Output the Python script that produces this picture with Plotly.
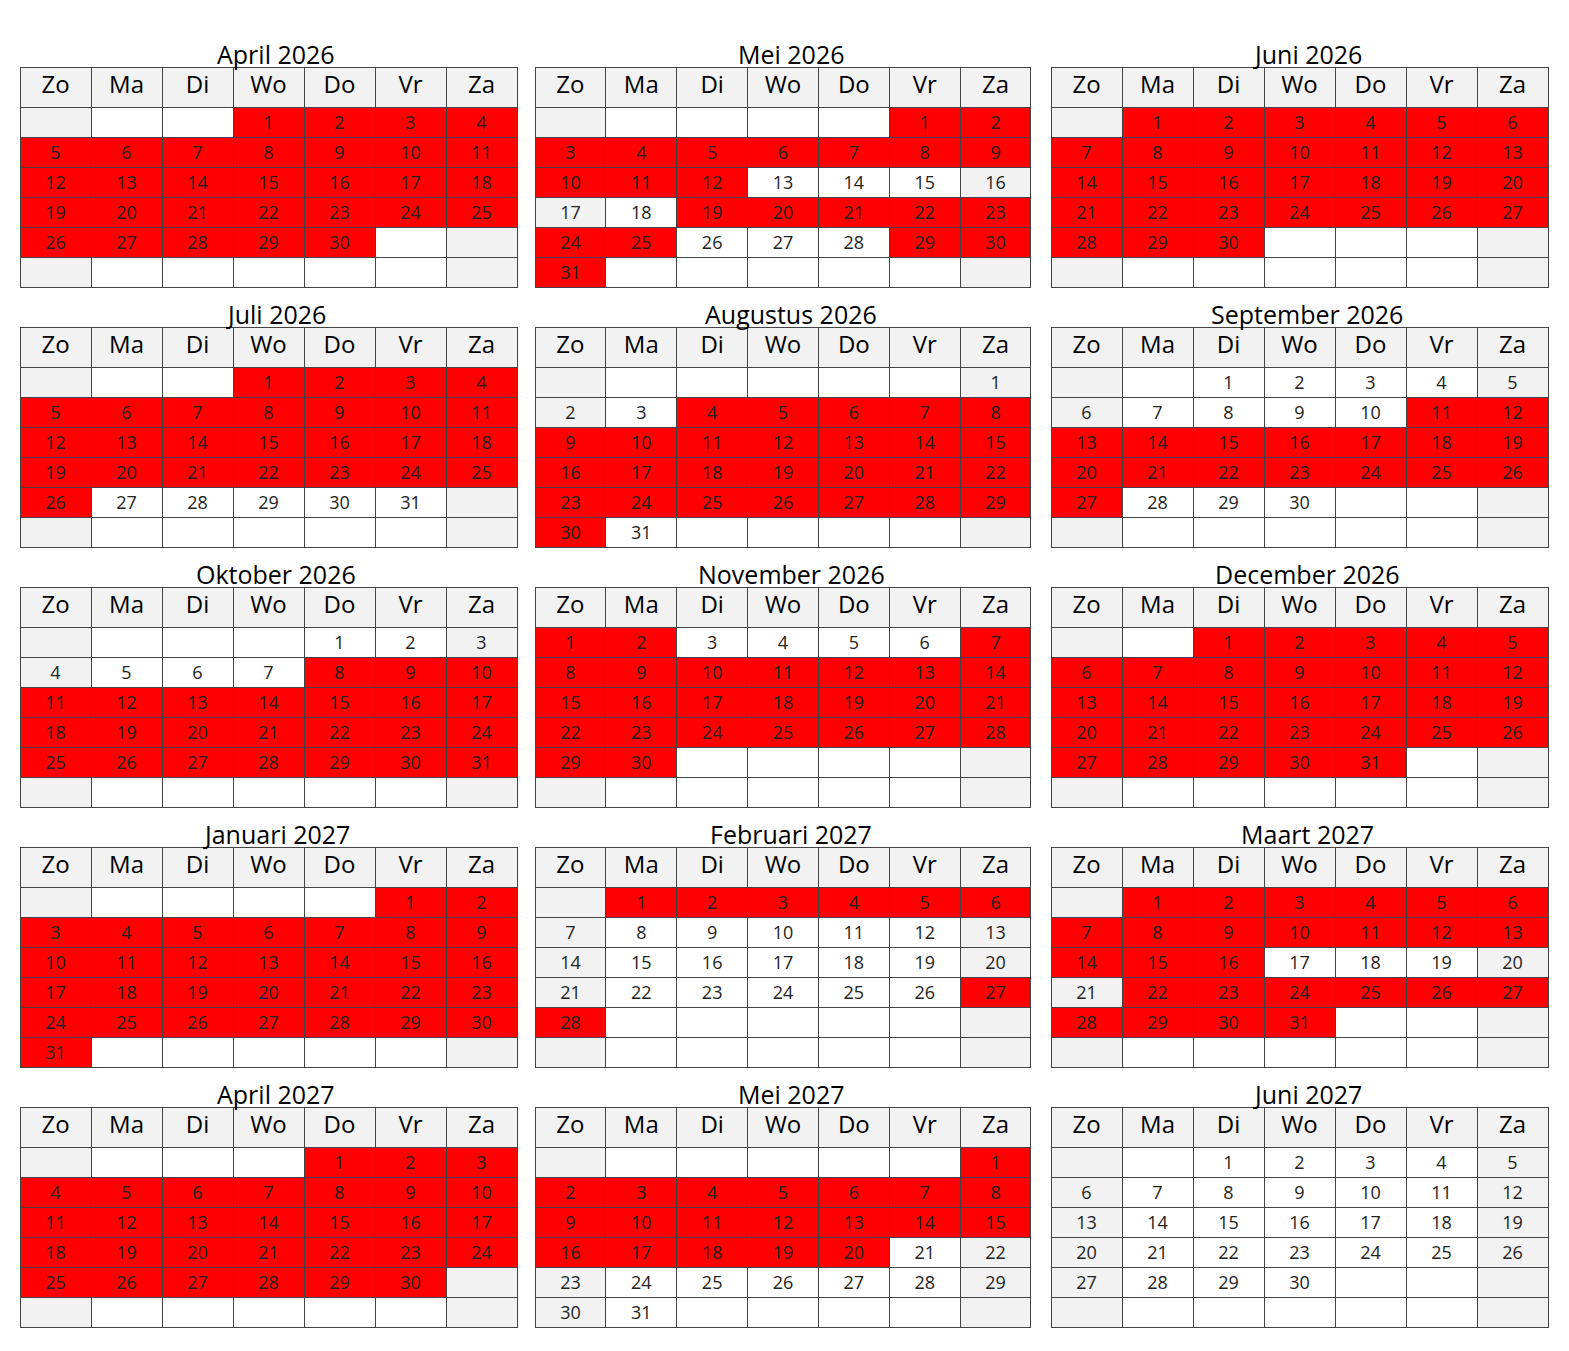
import calendar
import plotly.graph_objects as go

# months shown, (year, month, title)
months = [
    (2026, 4, "April 2026"), (2026, 5, "Mei 2026"), (2026, 6, "Juni 2026"),
    (2026, 7, "Juli 2026"), (2026, 8, "Augustus 2026"), (2026, 9, "September 2026"),
    (2026, 10, "Oktober 2026"), (2026, 11, "November 2026"), (2026, 12, "December 2026"),
    (2027, 1, "Januari 2027"), (2027, 2, "Februari 2027"), (2027, 3, "Maart 2027"),
    (2027, 4, "April 2027"), (2027, 5, "Mei 2027"), (2027, 6, "Juni 2027"),
]
day_names = ["Zo", "Ma", "Di", "Wo", "Do", "Vr", "Za"]

# booked (red) day ranges per month, inclusive
booked = {
    (2026, 4): [(1, 30)],
    (2026, 5): [(1, 12), (19, 25), (29, 31)],
    (2026, 6): [(1, 30)],
    (2026, 7): [(1, 26)],
    (2026, 8): [(4, 30)],
    (2026, 9): [(11, 27)],
    (2026, 10): [(8, 31)],
    (2026, 11): [(1, 2), (7, 30)],
    (2026, 12): [(1, 31)],
    (2027, 1): [(1, 31)],
    (2027, 2): [(1, 6), (27, 28)],
    (2027, 3): [(1, 16), (22, 31)],
    (2027, 4): [(1, 30)],
    (2027, 5): [(1, 20)],
    (2027, 6): [],
}

W, H = 1569, 1351
col_x = [(20, 516), (535, 1031), (1051, 1547)]
RED, GRAY, WHITE = "#ff0000", "#f2f2f2", "#ffffff"
OFF = 8  # table internal offset in px

cal = calendar.Calendar(firstweekday=6)
fig = go.Figure()
for i, (yr, mo, title) in enumerate(months):
    r, c = divmod(i, 3)
    weeks = cal.monthdayscalendar(yr, mo)
    while len(weeks) < 6:
        weeks.append([0] * 7)
    red = set()
    for a, b in booked[(yr, mo)]:
        red.update(range(a, b + 1))
    vals, fills = [], []
    for d in range(7):
        colv, colf = [], []
        for wk in weeks:
            day = wk[d]
            colv.append(str(day) if day else "")
            if day in red:
                colf.append(RED)
            elif d in (0, 6):
                colf.append(GRAY)
            else:
                colf.append(WHITE)
        vals.append(colv)
        fills.append(colf)
    top = 67 + r * 260
    x0, x1 = col_x[c]
    fig.add_trace(go.Table(
        domain=dict(x=[(x0 - OFF) / W, (x1 - OFF + 1) / W],
                    y=[1 - (top - OFF + 225) / H, 1 - (top - OFF) / H]),
        columnwidth=[1] * 7,
        header=dict(values=day_names, fill_color=GRAY, line_color="#444",
                    align="center", height=40,
                    font=dict(family="Open Sans", size=24, color="black")),
        cells=dict(values=vals, fill_color=fills, line_color="#444",
                   align="center", height=30,
                   font=dict(family="Open Sans", size=18, color="#222")),
    ))
    fig.add_annotation(x=(x0 + x1) / 2 / W, y=1 - (top - 21) / H, xref="paper", yref="paper",
                       xanchor="center", yanchor="middle",
                       text=title, showarrow=False,
                       font=dict(family="Open Sans", size=25, color="black"))

fig.update_layout(width=W, height=H, margin=dict(l=0, r=0, t=0, b=0),
                  paper_bgcolor="white")
fig.write_html("out.html")
